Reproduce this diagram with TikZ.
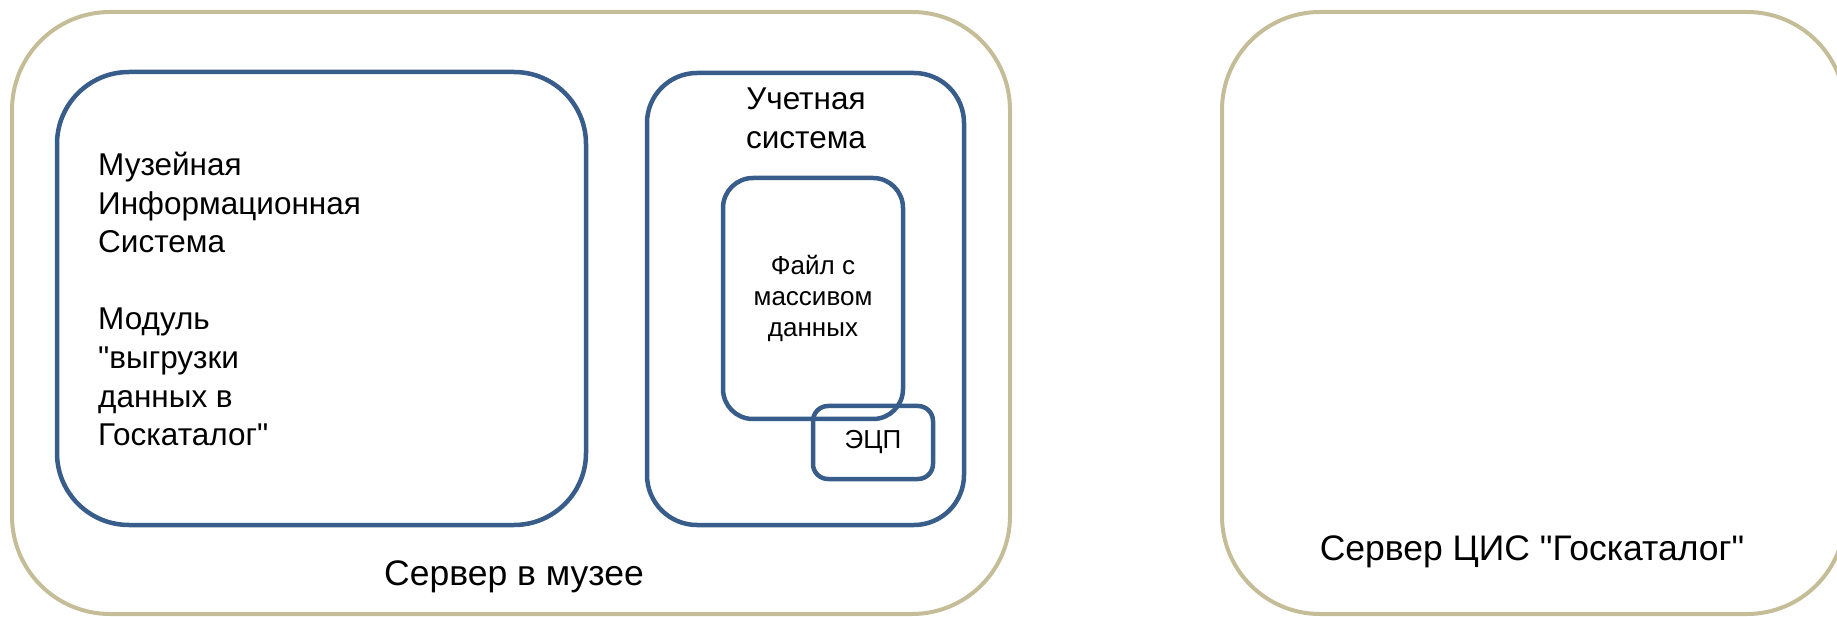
\documentclass[tikz,border=0pt]{standalone}
\usepackage{fontspec}
\setmainfont{Liberation Sans}[Ligatures=TeXOff]
\usepackage{tikz}
\definecolor{srvtan}{RGB}{196,189,151}
\definecolor{sysblue}{RGB}{56,93,138}

\begin{document}
\begin{tikzpicture}[x=1pt,y=-1pt,
  srv/.style={draw=srvtan,line width=4pt,rounded corners=98pt,inner sep=0pt},
  sys/.style={draw=sysblue,line width=4.5pt,inner sep=0pt},
  big/.style={font=\fontsize{35.5}{43}\selectfont},
  mid/.style={font=\fontsize{31.5}{38.6}\selectfont},
  small/.style={font=\fontsize{26}{31}\selectfont}]
\useasboundingbox (0,0) rectangle (1837,617);
\node[srv,minimum width=998pt,minimum height=602pt] (museum) at (511,313) {};
\node[srv,minimum width=623pt,minimum height=602pt] (gkserver) at (1533.5,313) {};
\node[sys,rounded corners=72pt,minimum width=529pt,minimum height=453pt] (mis) at (321.5,298.5) {};
\node[sys,rounded corners=50pt,minimum width=317pt,minimum height=452pt] (acct) at (805.5,299) {};
\node[sys,rounded corners=30pt,minimum width=180pt,minimum height=241pt,small,align=center] (file) at (813,298.5) {Файл с\\массивом\\данных};
\node[sys,rounded corners=15pt,minimum width=120pt,minimum height=73pt,small] (sig) at (873,442.5) {ЭЦП};
\node[mid,align=left,anchor=north west,inner sep=0pt] (mistext) at (98,152) {Музейная\\Информационная\\Система\\[38.6pt]Модуль\\"выгрузки\\данных в\\Госкаталог"};
\node[mid,align=center,anchor=north,inner sep=0pt] (accttext) at (806,88) {Учетная\\система};
\node[big,anchor=base] (museumlabel) at (514,585) {Сервер в музее};
\node[big,anchor=base] (gklabel) at (1532,560) {Сервер ЦИС "Госкаталог"};
\end{tikzpicture}
\end{document}
